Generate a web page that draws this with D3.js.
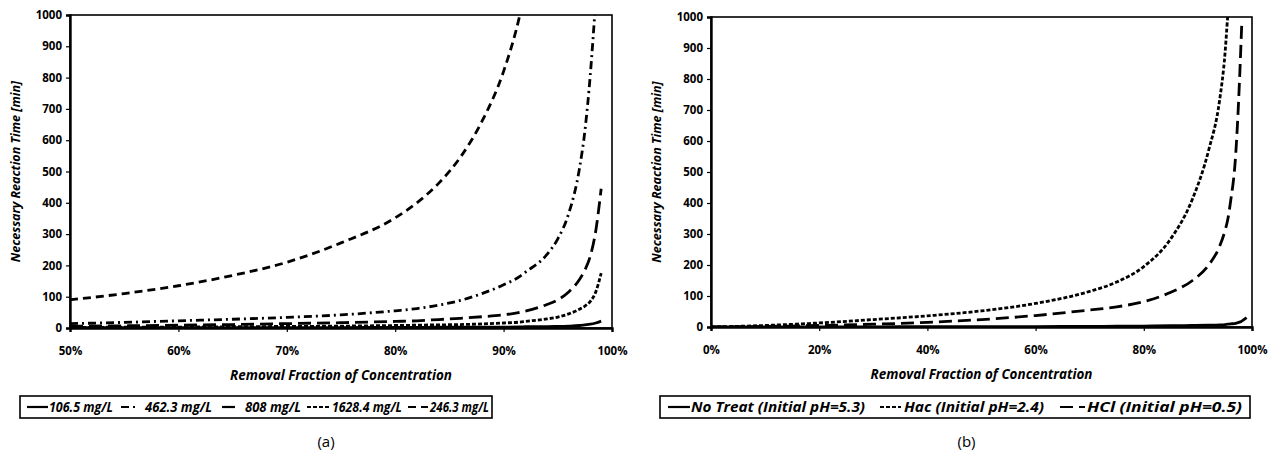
<!DOCTYPE html>
<html>
<head>
<meta charset="utf-8">
<script src="https://cdn.jsdelivr.net/npm/d3@7"></script>
<style>
  body { margin: 0; background: #fff; }
  svg { display: block; }
  text { font-family: "Open Sans", Lato, sans-serif; fill: #000; }
</style>
</head>
<body>
<svg width="1275" height="461"></svg>
<script>
const svg = d3.select("svg");

// ---- data, panel (a): removal fraction vs reaction time [min]
const xA = [0.5, 0.55, 0.6, 0.65, 0.7, 0.75, 0.8, 0.82, 0.84, 0.86, 0.88, 0.9, 0.915, 0.92, 0.94, 0.95, 0.96, 0.97, 0.975, 0.98, 0.985, 0.99];
const c106 = [1, 1, 1, 1, 1.5, 1.5, 2, 2, 2.5, 2.5, 3, 3, 3.5, 4, 4.5, 5, 6, 8, 10, 12, 16, 22];
const c462 = [14, 18, 23, 28, 34, 42, 55, 62, 73, 88, 110, 138, 165, 178, 235, 285, 365, 510, 630, 810, 1050, null];
const c808 = [6, 7, 9, 11, 14, 17, 21, 23, 27, 31, 36, 42, 50, 54, 75, 90, 115, 155, 185, 230, 310, 445];
const c1628 = [2, 2.5, 3, 4, 5, 6, 8, 9, 10, 11, 13, 16, 19, 21, 29, 35, 45, 60, 70, 85, 115, 175];
const c246 = [90, 110, 135, 168, 210, 272, 352, 400, 462, 545, 660, 820, 1000, 1080, null, null, null, null, null, null, null, null];
const namesA = ["106.5 mg/L", "462.3 mg/L", "808 mg/L", "1628.4 mg/L", "246.3 mg/L"];

// ---- data, panel (b)
const xB = [0, 0.1, 0.2, 0.3, 0.4, 0.5, 0.6, 0.7, 0.75, 0.8, 0.85, 0.89, 0.92, 0.94, 0.95, 0.955, 0.96, 0.97, 0.975, 0.98, 0.981, 0.99];
const noTreat = [0, 0, 0.5, 0.5, 1, 1, 1.5, 2, 2.5, 3, 4, 5, 6, 7, 8, 9, 10, 12, 15, 18, 19, 30];
const hac = [0, 5, 13, 24, 36, 52, 76, 115, 145, 195, 285, 413, 571, 730, 880, 1000, 1100, null, null, null, null, null];
const hcl = [0, 2, 5, 9, 15, 24, 37, 55, 65, 82, 112, 150, 200, 260, 310, 345, 400, 560, 720, 930, 975, null];
const namesB = ["No Treat (Initial pH=5.3)", "Hac (Initial pH=2.4)", "HCl (Initial pH=0.5)"];

const yTicks = d3.range(0, 1001, 100);
const xTicksA = [0.5, 0.6, 0.7, 0.8, 0.9, 1.0];
const xTicksB = [0, 0.2, 0.4, 0.6, 0.8, 1.0];

const dashes = {
  solid: null,
  dashdot: "8,4,2,4",
  longdash: "13,6",
  shortdash: "4,2",
  meddash: "8,5"
};

function panel(id, box, xDomain, xTicks, xs, series, legend, label) {
  const g = svg.append("g");
  const x = d3.scaleLinear().domain(xDomain).range([box.x0, box.x1]);
  const y = d3.scaleLinear().domain([0, 1000]).range([box.y0, box.y1]);

  g.append("clipPath").attr("id", id)
    .append("rect")
    .attr("x", box.x0).attr("y", box.y1)
    .attr("width", box.x1 - box.x0).attr("height", box.y0 - box.y1);

  // frame
  g.append("rect")
    .attr("x", box.x0).attr("y", box.y1)
    .attr("width", box.x1 - box.x0).attr("height", box.y0 - box.y1)
    .attr("fill", "none").attr("stroke", "#000").attr("stroke-width", 1.6);

  // axes
  const ya = g.append("g").attr("transform", `translate(${box.x0},0)`)
    .call(d3.axisLeft(y).tickValues(yTicks).tickSize(4).tickPadding(4).tickFormat(d3.format("d")));
  ya.select(".domain").attr("stroke-width", 2.4);
  ya.selectAll("line").attr("stroke-width", 1.2);
  ya.selectAll("text").attr("font-size", 11.5).attr("font-weight", "bold").attr("font-family", "Open Sans");

  const xa = g.append("g").attr("transform", `translate(0,${box.y0})`)
    .call(d3.axisBottom(x).tickValues(xTicks).tickSize(4).tickPadding(15).tickFormat(d3.format(".0%")));
  xa.select(".domain").attr("stroke-width", 2.4);
  xa.selectAll("line").attr("stroke-width", 1.2);
  xa.selectAll("text").attr("font-size", 11.5).attr("font-weight", "bold").attr("font-family", "Open Sans");

  // axis titles
  g.append("text")
    .attr("transform", `translate(${box.x0 - 50},${(box.y0 + box.y1) / 2}) rotate(-90)`)
    .attr("text-anchor", "middle")
    .attr("font-size", 12.5).attr("font-weight", "bold").attr("font-style", "italic")
    .text("Necessary Reaction Time [min]");
  g.append("text")
    .attr("x", (box.x0 + box.x1) / 2).attr("y", box.y0 + 52)
    .attr("text-anchor", "middle")
    .attr("font-size", 13.5).attr("font-weight", "bold").attr("font-style", "italic")
    .attr("textLength", 222).attr("lengthAdjust", "spacingAndGlyphs")
    .text("Removal Fraction of Concentration");

  // curves
  const line = d3.line()
    .defined(d => d[1] != null)
    .x(d => x(d[0])).y(d => y(d[1]))
    .curve(d3.curveMonotoneX);
  const lines = g.append("g").attr("clip-path", `url(#${id})`);
  series.forEach(s => {
    lines.append("path")
      .datum(xs.map((v, i) => [v, s.values[i]]))
      .attr("d", line)
      .attr("fill", "none")
      .attr("stroke", "#000")
      .attr("stroke-width", 2.8)
      .attr("stroke-dasharray", dashes[s.style]);
  });

  // legend box
  g.append("rect")
    .attr("x", legend.x0).attr("y", legend.y)
    .attr("width", legend.x1 - legend.x0).attr("height", 22)
    .attr("fill", "none").attr("stroke", "#000").attr("stroke-width", 1.6);
  legend.items.forEach((it, i) => {
    const s = series[i];
    g.append("line")
      .attr("x1", it.sx0).attr("x2", it.sx1)
      .attr("y1", legend.y + 11).attr("y2", legend.y + 11)
      .attr("stroke", "#000").attr("stroke-width", 2.2)
      .attr("stroke-dasharray", dashes[s.style]);
    g.append("text")
      .attr("x", it.tx).attr("y", legend.y + 16)
      .attr("font-size", 13.5).attr("font-weight", "bold").attr("font-style", "italic")
      .attr("textLength", it.tw).attr("lengthAdjust", "spacingAndGlyphs")
      .text(s.name);
  });

  g.append("text")
    .attr("x", (box.x0 + box.x1) / 2 - 15).attr("y", 447)
    .attr("text-anchor", "middle")
    .attr("font-size", 15).attr("font-family", "Roboto, sans-serif")
    .text(label);
}

panel("clipA",
  { x0: 70, x1: 612, y0: 328, y1: 15 },
  [0.5, 1.0], xTicksA, xA,
  [
    { name: namesA[0], values: c106, style: "solid" },
    { name: namesA[1], values: c462, style: "dashdot" },
    { name: namesA[2], values: c808, style: "longdash" },
    { name: namesA[3], values: c1628, style: "shortdash" },
    { name: namesA[4], values: c246, style: "meddash" }
  ],
  {
    x0: 20, x1: 492, y: 396,
    items: [
      { sx0: 27, sx1: 48, tx: 49, tw: 64 },
      { sx0: 121, sx1: 139, tx: 145, tw: 67 },
      { sx0: 222, sx1: 241, tx: 245, tw: 56 },
      { sx0: 307, sx1: 329, tx: 332, tw: 70 },
      { sx0: 408, sx1: 428, tx: 430, tw: 59 }
    ]
  },
  "(a)");

panel("clipB",
  { x0: 711, x1: 1252, y0: 327, y1: 17 },
  [0, 1.0], xTicksB, xB,
  [
    { name: namesB[0], values: noTreat, style: "solid" },
    { name: namesB[1], values: hac, style: "shortdash" },
    { name: namesB[2], values: hcl, style: "longdash" }
  ],
  {
    x0: 660, x1: 1250, y: 396,
    items: [
      { sx0: 668, sx1: 690, tx: 691, tw: 174 },
      { sx0: 880, sx1: 901, tx: 904, tw: 140 },
      { sx0: 1060, sx1: 1085, tx: 1087, tw: 155 }
    ]
  },
  "(b)");
</script>
</body>
</html>
